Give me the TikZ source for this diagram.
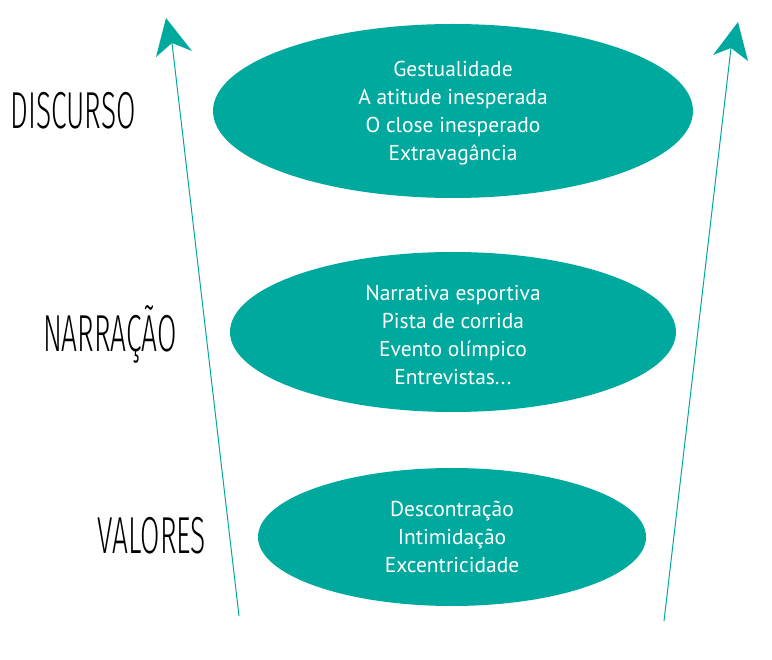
\documentclass[tikz,border=0pt]{standalone}
\usepackage{fontspec}
\setmainfont{PT Sans}
\newfontfamily\handfont{Fira Sans Light}
\definecolor{teal1}{HTML}{00A99D}
\begin{document}
\begin{tikzpicture}[x=1pt,y=-1pt,
  itemtext/.style={text=white,font=\fontsize{21.5}{28}\selectfont,align=center},
  hand/.style={font=\handfont\fontsize{52}{52}\selectfont,xscale=0.54,anchor=center,inner sep=0pt},
  axis/.style={draw=teal1,line width=1pt},
  head/.style={fill=teal1}]
\useasboundingbox (0,0) rectangle (772,660);
% ellipses
\fill[teal1] (453,111) ellipse [x radius=240,y radius=87];
\fill[teal1] (453,332) ellipse [x radius=223,y radius=80];
\fill[teal1] (452,537) ellipse [x radius=194,y radius=69];
\node[itemtext] (e1) at (453,113) {Gestualidade\\A atitude inesperada\\O close inesperado\\Extravagância};
\node[itemtext] (e2) at (453,335) {Narrativa esportiva\\Pista de corrida\\Evento olímpico\\Entrevistas...};
\node[itemtext] (e3) at (452,537) {Descontração\\Intimidação\\Excentricidade};
% labels
\node[hand] (l1) at (73,111) {DISCURSO};
\node[hand] (l2) at (110,334) {NARRAÇÃO};
\node[hand] (l3) at (152,536) {VALORES};
% axes
\coordinate (a1b) at (239,616);
\coordinate (a1n) at (172,43);
\coordinate (a1t) at (166,18);
\coordinate (a2b) at (664,621);
\coordinate (a2n) at (731,48);
\coordinate (a2t) at (738,22);
\draw[axis] (a1b) -- (a1n);
\draw[axis] (a2b) -- (a2n);
\fill[head] (a1t) -- (192,51) -- (a1n) -- (156,57) -- cycle;
\fill[head] (a2t) -- (748,61) -- (a2n) -- (713,55) -- cycle;
\end{tikzpicture}
\end{document}
